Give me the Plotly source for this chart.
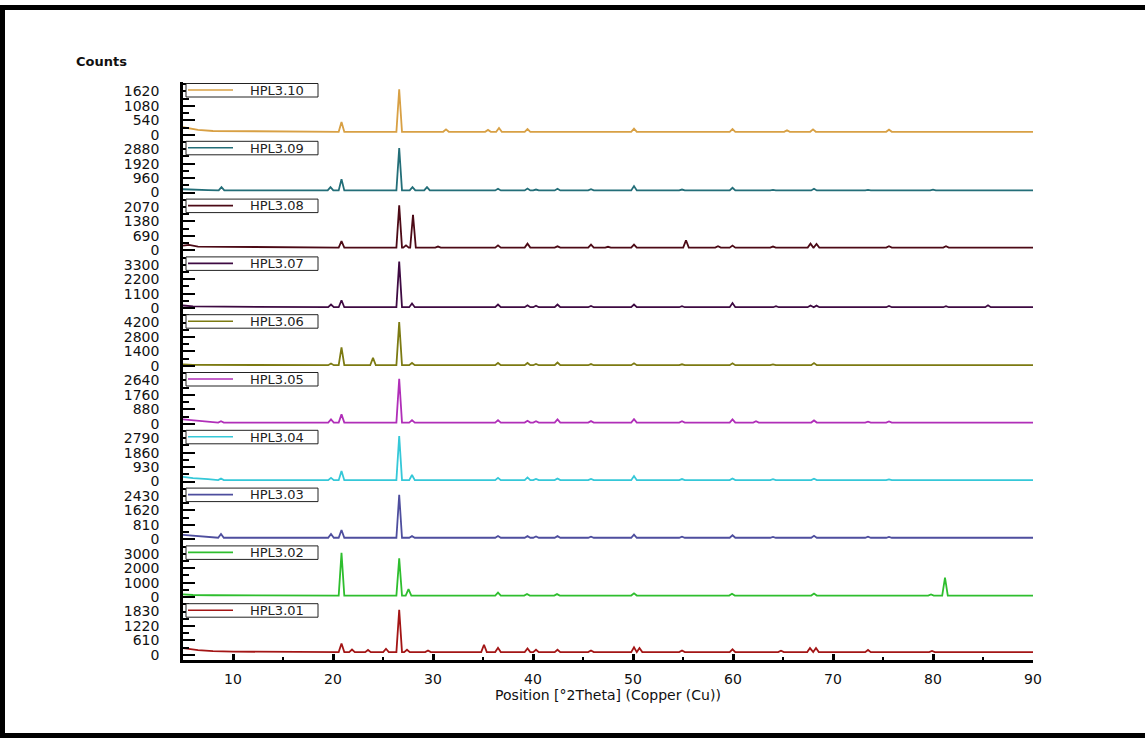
import plotly.graph_objects as go
from plotly.subplots import make_subplots

# ---------------- data ----------------
NAMES = ["HPL3.01", "HPL3.02", "HPL3.03", "HPL3.04", "HPL3.05",
         "HPL3.06", "HPL3.07", "HPL3.08", "HPL3.09", "HPL3.10"]
COLORS = ["#A31515", "#2EBE2E", "#4E4E9E", "#35C8D8", "#B02EB8",
          "#7C7A12", "#3E0A42", "#4C0A16", "#236E78", "#D8A044"]
# y tick step (counts) for each panel
STEPS = [610, 1000, 810, 930, 880, 1400, 1100, 690, 960, 540]
# flat background level (counts) for each sample
BASES = [120, 110, 90, 90, 70, 70, 70, 130, 140, 110]

# low-angle start of each pattern: (2theta, counts)
START_01 = [(5.0, 290), (5.6, 250), (6.5, 200), (8.0, 160), (10.0, 140)]
START_02 = [(5.0, 190), (6.0, 150), (8.0, 130)]
START_03 = [(5.0, 250), (6.0, 200), (7.5, 160)]
START_04 = [(5.0, 300), (6.0, 220), (7.5, 150)]
START_05 = [(5.0, 260), (6.0, 200), (7.5, 130)]
START_06 = [(5.0, 150), (6.0, 110)]
START_07 = [(5.0, 200), (6.0, 130)]
START_08 = [(5.0, 230), (5.6, 260), (6.5, 180)]
START_09 = [(5.0, 220), (6.0, 180), (7.5, 160)]
START_10 = [(5.0, 280), (5.5, 250), (6.5, 180), (8.0, 140)]

# reflections: positions (deg 2theta) and peak counts
POS_01 = [20.85, 21.9, 23.5, 25.3, 26.62, 27.4, 29.5, 35.1, 36.5, 39.45, 40.3, 42.45,
          45.8, 50.1, 50.65, 54.9, 59.95, 64.8, 67.7, 68.3, 73.5, 79.9]
CNT_01 = [480, 230, 210, 260, 1900, 220, 190, 430, 300, 270, 220, 220,
          190, 320, 290, 190, 240, 180, 290, 290, 210, 170]
POS_02 = [20.85, 26.62, 27.55, 36.5, 39.4, 42.4, 50.1, 59.9, 68.1, 79.8, 81.2]
CNT_02 = [3060, 2680, 560, 310, 220, 210, 260, 230, 250, 190, 1350]
POS_03 = [8.8, 19.8, 20.85, 26.62, 27.9, 36.5, 39.45, 40.3, 42.45, 45.8, 50.1,
          54.9, 59.95, 64.0, 68.1, 73.5, 75.6]
CNT_03 = [300, 300, 525, 2500, 180, 190, 180, 160, 180, 150, 260,
          150, 230, 140, 200, 150, 140]
POS_04 = [8.8, 19.8, 20.85, 26.62, 27.9, 36.5, 39.45, 40.3, 42.45, 45.8, 50.1,
          54.9, 59.95, 64.0, 68.1, 75.6]
CNT_04 = [200, 240, 675, 2930, 420, 240, 265, 170, 200, 170, 350,
          160, 200, 150, 180, 140]
POS_05 = [8.8, 19.8, 20.85, 26.62, 27.9, 36.5, 39.45, 40.3, 42.45, 45.8, 50.1,
          54.9, 59.95, 62.3, 68.1, 73.5, 75.6]
CNT_05 = [150, 265, 570, 2740, 220, 220, 180, 150, 265, 160, 280,
          150, 270, 150, 200, 130, 140]
POS_06 = [19.8, 20.85, 24.0, 26.62, 27.9, 36.5, 39.45, 40.3, 42.45, 45.8, 50.1,
          54.9, 59.95, 64.0, 68.1, 75.6]
CNT_06 = [230, 1800, 780, 4250, 290, 290, 290, 200, 330, 180, 250,
          160, 250, 150, 280, 140]
POS_07 = [19.8, 20.85, 26.62, 27.9, 36.5, 39.45, 40.3, 42.45, 45.8, 50.1, 54.9,
          59.95, 64.3, 67.75, 68.35, 75.6, 81.3, 85.5]
CNT_07 = [270, 600, 3550, 350, 270, 220, 180, 270, 170, 270, 150,
          390, 150, 200, 190, 160, 150, 215]
POS_08 = [20.85, 26.62, 27.3, 28.0, 30.5, 36.5, 39.45, 42.45, 45.8, 47.5, 50.1,
          55.3, 58.5, 59.95, 64.0, 67.75, 68.35, 75.6, 81.3]
CNT_08 = [435, 2150, 240, 1690, 180, 240, 320, 190, 275, 170, 275,
          480, 200, 225, 180, 320, 300, 195, 195]
POS_09 = [8.85, 19.75, 20.85, 26.62, 27.95, 29.4, 36.5, 39.45, 40.3, 42.45, 45.8,
          50.1, 54.9, 59.95, 64.0, 68.1, 73.5, 75.6, 80.0]
CNT_09 = [360, 360, 880, 2950, 360, 360, 250, 270, 200, 250, 220,
          430, 200, 320, 170, 255, 170, 170, 190]
POS_10 = [20.85, 26.62, 31.3, 35.5, 36.6, 39.45, 50.1, 59.95, 65.4, 68.0, 75.6]
CNT_10 = [476, 1700, 200, 180, 250, 210, 227, 210, 170, 200, 190]

STARTS = [START_01, START_02, START_03, START_04, START_05,
          START_06, START_07, START_08, START_09, START_10]
POSS = [POS_01, POS_02, POS_03, POS_04, POS_05, POS_06, POS_07, POS_08, POS_09, POS_10]
CNTS = [CNT_01, CNT_02, CNT_03, CNT_04, CNT_05, CNT_06, CNT_07, CNT_08, CNT_09, CNT_10]

X_TICKS = [10, 20, 30, 40, 50, 60, 70, 80, 90]
X_TITLE = "Position [°2Theta] (Copper (Cu))"
Y_TITLE = "Counts"

# ---------------- geometry ----------------
W, H = 1145, 738
L, R, T, B = 183, 112, 82, 78
PW, PH = W - L - R, H - T - B
NP = len(NAMES)
PANEL = PH / NP


def px(x):
    return (x - L) / PW


def py(y):
    return (H - B - y) / PH


def pattern(start, base, pos, cnt, w=0.28):
    pts = list(start) + [(90.0, base)]
    for p, h in zip(pos, cnt):
        pts += [(p - w, base), (p, h), (p + w, base)]
    pts.sort(key=lambda t: t[0])
    return [t[0] for t in pts], [t[1] for t in pts]


FONT = "DejaVu Sans"
fig = make_subplots(rows=NP, cols=1, shared_xaxes=True, vertical_spacing=0)

shapes = []
annotations = []
for i, name in enumerate(NAMES):
    row = NP - i
    xs, ys = pattern(STARTS[i], BASES[i], POSS[i], CNTS[i])
    fig.add_trace(go.Scatter(x=xs, y=ys, mode="lines", name=name, showlegend=False,
                             line=dict(color=COLORS[i], width=1.8)), row=row, col=1)
    a = STEPS[i]
    fig.update_yaxes(row=row, col=1, range=[-0.35 * a, 3.65 * a],
                     tickmode="linear", tick0=0, dtick=a,
                     ticks="inside", ticklen=12, tickwidth=2, tickcolor="black",
                     minor=dict(tickmode="linear", tick0=0, dtick=a / 2, ticks="inside",
                                ticklen=6, tickwidth=1.5, tickcolor="black"),
                     showline=True, linewidth=2.5, linecolor="black",
                     showgrid=False, zeroline=False, ticklabelstandoff=18,
                     tickfont=dict(family=FONT, size=14, color="#111"))
    # legend box for the panel
    top = T + PANEL * (row - 1)
    shapes.append(dict(type="rect", xref="paper", yref="paper",
                       x0=px(186), x1=px(318), y0=py(top + 15), y1=py(top + 1.5),
                       line=dict(color="#222", width=1), fillcolor="white", layer="above"))
    shapes.append(dict(type="line", xref="paper", yref="paper",
                       x0=px(188), x1=px(233), y0=py(top + 8), y1=py(top + 8),
                       line=dict(color=COLORS[i], width=1.6), layer="above"))
    annotations.append(dict(text=name, xref="paper", yref="paper", x=px(277), y=py(top + 8.3),
                            xanchor="center", yanchor="middle", showarrow=False,
                            font=dict(family=FONT, size=13, color="#222")))

fig.update_xaxes(range=[5, 90], showgrid=False, zeroline=False, showline=False,
                 ticks="", showticklabels=False)
fig.update_xaxes(row=NP, col=1, showline=True, linewidth=3, linecolor="black",
                 tickmode="array", tickvals=X_TICKS, ticktext=[str(v) for v in X_TICKS],
                 ticks="inside", ticklen=6, tickwidth=2.5, tickcolor="black",
                 minor=dict(tickmode="linear", tick0=5, dtick=5, ticks="inside",
                            ticklen=3, tickwidth=2, tickcolor="black"),
                 showticklabels=True, ticklabelstandoff=4,
                 tickfont=dict(family=FONT, size=14, color="#111"),
                 title=dict(text=X_TITLE, standoff=5,
                            font=dict(family=FONT, size=14, color="#111")))

annotations.append(dict(text="<b>" + Y_TITLE + "</b>", xref="paper", yref="paper",
                        x=px(74), y=py(62), xanchor="left", yanchor="middle",
                        showarrow=False, font=dict(family=FONT, size=13, color="#111")))
# outer black frame: left, top and bottom bands (right side is cut off in the picture)
FRAME = dict(color="black", width=5)
shapes.append(dict(type="line", xref="paper", yref="paper",
                   x0=px(2.5), x1=px(2.5), y0=py(738), y1=py(5), line=FRAME))
shapes.append(dict(type="line", xref="paper", yref="paper",
                   x0=px(0), x1=px(1145), y0=py(7.5), y1=py(7.5), line=FRAME))
shapes.append(dict(type="line", xref="paper", yref="paper",
                   x0=px(0), x1=px(1145), y0=py(735.5), y1=py(735.5), line=FRAME))

fig.update_layout(width=W, height=H, margin=dict(l=L, r=R, t=T, b=B),
                  paper_bgcolor="white", plot_bgcolor="white",
                  shapes=shapes, annotations=annotations, showlegend=False)

fig.write_html("out.html")
